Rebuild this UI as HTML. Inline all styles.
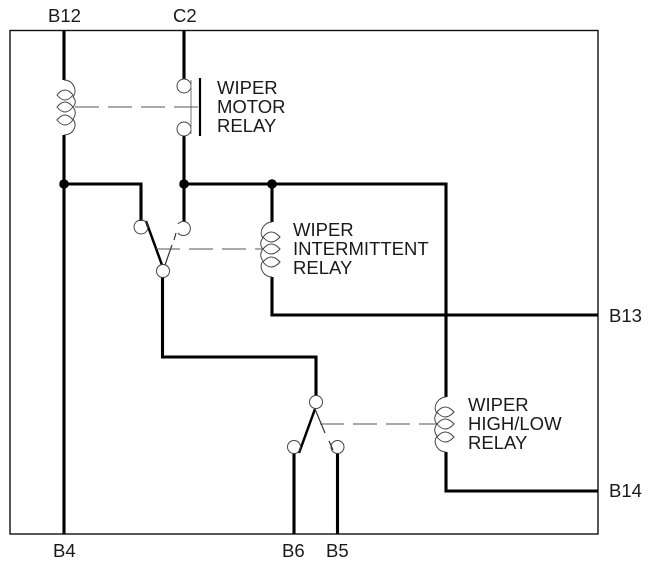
<!DOCTYPE html>
<html>
<head>
<meta charset="utf-8">
<style>
html,body{margin:0;padding:0;background:#fff;}
svg{display:block;}
text{font-family:"Liberation Sans",Arial,sans-serif;font-size:18.500px;fill:#1a1a1a;}
.t{stroke:#000;stroke-width:3.100;fill:none;}
.f{stroke:#333;stroke-width:1.200;fill:none;}
.c{stroke:#444;stroke-width:1;fill:none;}
.d{stroke:#555;stroke-width:1;fill:none;stroke-dasharray:24 9;}
</style>
</head>
<body>
<svg width="654" height="566" viewBox="0 0 654 566" xmlns="http://www.w3.org/2000/svg">
<rect x="10" y="30.500" width="588" height="503.500" fill="none" stroke="#111" stroke-width="1.400"/>

<!-- thick wires -->
<path class="t" d="M64 30V80M64 135V534"/>
<path class="t" d="M184 30V79M184 136V222"/>
<path class="t" d="M64 184H141V221"/>
<path class="t" d="M184 184H446V397M446 452V491H598"/>
<path class="t" d="M272 184V222M272 277V315H598"/>
<path class="t" d="M162.500 277V357H316V396"/>
<path class="t" d="M294 453V534M337.500 453V534"/>
<path class="t" style="stroke-width:2.500" d="M146 221L162 265"/>
<path class="t" style="stroke-width:2.500" d="M315 409L299 453"/>
<path class="t" style="stroke-width:2.200" d="M200 78V136"/>

<circle cx="64" cy="184" r="4.800" fill="#000"/>
<circle cx="184" cy="184" r="4.800" fill="#000"/>
<circle cx="272" cy="184" r="4.800" fill="#000"/>

<!-- coil 1 -->
<path class="c" d="M64 80C73 80 78 90 73 97C76 100 76 104 73 107C76 111 76 115 73 119C78 126 73 135 64 135"/>
<path class="c" d="M57 95Q65 85 73 95Q65 105 57 95ZM57 107Q65 97 73 107Q65 117 57 107ZM57 120Q65 110 73 120Q65 130 57 120Z"/>
<!-- coil 2 -->
<path class="c" d="M272 222C264 222 258 232 263 238C260 241 260 246 263 249C260 253 260 257 263 261C258 268 264 277 272 277"/>
<path class="c" d="M263 237Q271 227 280 237Q271 247 263 237ZM263 249Q271 239 280 249Q271 259 263 249ZM263 262Q271 252 280 262Q271 272 263 262Z"/>
<!-- coil 3 -->
<path class="c" d="M446 397C438 397 432 407 437 413C434 416 434 421 437 424C434 428 434 432 437 436C432 443 438 452 446 452"/>
<path class="c" d="M437 412Q445 402 454 412Q445 422 437 412ZM437 424Q445 414 454 424Q445 434 437 424ZM437 437Q445 427 454 437Q445 447 437 437Z"/>

<!-- contacts -->
<circle class="c" cx="184" cy="86" r="7"/>
<circle class="c" cx="184" cy="129" r="7"/>
<path class="f" style="stroke:#777;stroke-width:1" d="M191 80V134"/>
<circle class="c" cx="141" cy="227" r="7"/>
<path class="c" d="M178 224A7 7 0 1 1 178 233"/>
<circle class="c" cx="163" cy="271" r="6.500"/>
<path class="f" d="M165 265L172 245M174 240L176 233"/>
<circle class="c" cx="316" cy="402" r="6.500"/>
<circle class="c" cx="294" cy="447" r="6.500"/>
<circle class="c" cx="337.500" cy="447" r="6.500"/>
<path class="f" d="M315 409L325 433M329 441L333 450"/>

<!-- dashed links -->
<path class="d" d="M75 107H200"/>
<path class="d" d="M156 249H262"/>
<path class="d" d="M320 424H438"/>

<!-- labels -->
<text x="48" y="22">B12</text>
<text x="173" y="22">C2</text>
<text x="217" y="94">WIPER</text>
<text x="217" y="113">MOTOR</text>
<text x="217" y="132">RELAY</text>
<text x="293" y="236">WIPER</text>
<text x="293" y="255">INTERMITTENT</text>
<text x="293" y="274">RELAY</text>
<text x="468" y="411">WIPER</text>
<text x="468" y="430">HIGH/LOW</text>
<text x="468" y="449">RELAY</text>
<text x="609" y="322">B13</text>
<text x="609" y="497">B14</text>
<text x="53" y="557">B4</text>
<text x="282" y="557">B6</text>
<text x="326" y="557">B5</text>
</svg>
</body>
</html>
